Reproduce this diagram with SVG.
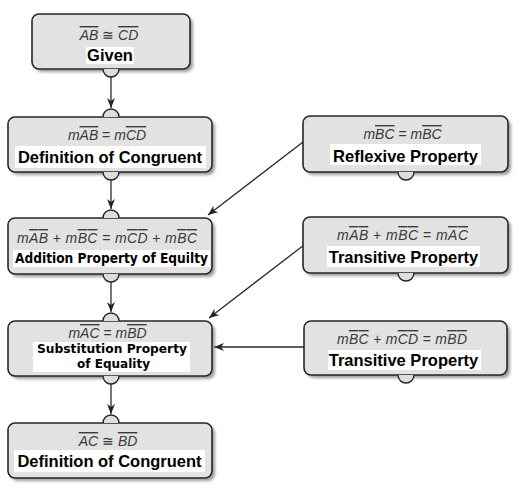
<svg xmlns="http://www.w3.org/2000/svg" width="521" height="495" viewBox="0 0 521 495">
<defs>
<filter id="sh" x="-10%" y="-10%" width="130%" height="140%"><feGaussianBlur stdDeviation="1.4"/></filter>
<marker id="ah" markerUnits="userSpaceOnUse" markerWidth="10" markerHeight="8" refX="10" refY="4" orient="auto">
<path d="M0,0 L10,4 L0,8 L3,4 z" fill="#222"/>
</marker>
<style>
.shadow{fill:#7a7a7a;opacity:.75;filter:url(#sh)}
.box{fill:#e2e2e2;stroke:#262626;stroke-width:1.6}
.tab{fill:#dedede;stroke:#262626;stroke-width:1.4}
.hl{fill:#ffffff}
.f{font-family:"Liberation Sans",Arial,sans-serif;font-style:italic;font-size:14px;fill:#3a3a3a;text-anchor:middle}
.o{text-decoration:overline}
.op{font-style:normal}
.l{font-family:"Liberation Sans",Arial,sans-serif;font-weight:bold;font-size:16.5px;fill:#000;text-anchor:middle}
.v{font-family:"DejaVu Sans Condensed","DejaVu Sans",sans-serif;font-stretch:condensed;font-weight:bold;font-size:13.5px;fill:#000;text-anchor:middle}
.s{font-size:12.5px}
.c{fill:none;stroke:#2a2a2a;stroke-width:1.3;marker-end:url(#ah)}
</style>
</defs>
<rect width="521" height="495" fill="#ffffff"/>

<g id="connectors">
<line class="c" x1="111" y1="77" x2="111" y2="108"/>
<line class="c" x1="111" y1="180" x2="111" y2="209"/>
<line class="c" x1="111" y1="282" x2="111" y2="312"/>
<line class="c" x1="111" y1="384" x2="111" y2="414"/>
<line class="c" x1="303" y1="142" x2="208" y2="215"/>
<line class="c" x1="304" y1="245" x2="209" y2="318"/>
<line class="c" x1="304" y1="347" x2="214" y2="347"/>
</g>

<g id="n-given">
<rect class="shadow" x="35" y="17" width="158" height="55" rx="7"/>
<rect class="box" x="32" y="14" width="158" height="55" rx="7"/>
<path class="tab" d="M103,69 A8,8 0 0 0 119,69"/>
<text class="f" x="109" y="40"><tspan class="o">AB</tspan><tspan class="op"> ≅ </tspan><tspan class="o">CD</tspan></text>
<rect class="hl" x="86" y="47" width="48" height="17"/>
<text class="l" x="110" y="61">Given</text>
</g>

<g id="n-defcong1">
<rect class="shadow" x="11" y="120" width="204" height="55" rx="7"/>
<rect class="box" x="8" y="117" width="204" height="55" rx="7"/>
<path class="tab" d="M103,117 A8,8 0 0 1 119,117"/>
<path class="tab" d="M103,172 A8,8 0 0 0 119,172"/>
<text class="f" x="107" y="140">m<tspan class="o">AB</tspan><tspan class="op"> = </tspan>m<tspan class="o">CD</tspan></text>
<rect class="hl" x="15" y="146" width="191" height="22"/>
<text class="l" x="110" y="163">Definition of Congruent</text>
</g>

<g id="n-reflexive">
<rect class="shadow" x="306" y="119" width="205" height="56" rx="7"/>
<rect class="box" x="303" y="116" width="205" height="56" rx="7"/>
<path class="tab" d="M398,172 A8,8 0 0 0 414,172"/>
<text class="f" x="402.5" y="139">m<tspan class="o">BC</tspan><tspan class="op"> = </tspan>m<tspan class="o">BC</tspan></text>
<rect class="hl" x="330" y="144" width="151" height="21"/>
<text class="l" x="405.5" y="162">Reflexive Property</text>
</g>

<g id="n-addition">
<rect class="shadow" x="11" y="221" width="204" height="56" rx="7"/>
<rect class="box" x="8" y="218" width="204" height="56" rx="7"/>
<path class="tab" d="M103,218 A8,8 0 0 1 119,218"/>
<path class="tab" d="M103,274 A8,8 0 0 0 119,274"/>
<text class="f" x="107" y="243" textLength="180" lengthAdjust="spacing">m<tspan class="o">AB</tspan><tspan class="op"> + </tspan>m<tspan class="o">BC</tspan><tspan class="op"> = </tspan>m<tspan class="o">CD</tspan><tspan class="op"> + </tspan>m<tspan class="o">BC</tspan></text>
<rect class="hl" x="13" y="250" width="197" height="17"/>
<text class="v" x="111.5" y="263" textLength="193" lengthAdjust="spacingAndGlyphs">Addition Property of Equilty</text>
</g>

<g id="n-transitive1">
<rect class="shadow" x="306" y="220" width="205" height="56" rx="7"/>
<rect class="box" x="303" y="217" width="205" height="56" rx="7"/>
<path class="tab" d="M398,273 A8,8 0 0 0 414,273"/>
<text class="f" x="402.5" y="240" textLength="131" lengthAdjust="spacing">m<tspan class="o">AB</tspan><tspan class="op"> + </tspan>m<tspan class="o">BC</tspan><tspan class="op"> = </tspan>m<tspan class="o">AC</tspan></text>
<rect class="hl" x="327" y="246" width="153" height="21"/>
<text class="l" x="403.5" y="263">Transitive Property</text>
</g>

<g id="n-substitution">
<rect class="shadow" x="11" y="324" width="204" height="55" rx="7"/>
<rect class="box" x="8" y="321" width="204" height="55" rx="7"/>
<path class="tab" d="M103,321 A8,8 0 0 1 119,321"/>
<path class="tab" d="M103,376 A8,8 0 0 0 119,376"/>
<text class="f" x="107.5" y="338">m<tspan class="o">AC</tspan><tspan class="op"> = </tspan>m<tspan class="o">BD</tspan></text>
<rect class="hl" x="33" y="342" width="157" height="30"/>
<text class="v s" x="112" y="353" textLength="150" lengthAdjust="spacingAndGlyphs">Substitution Property</text>
<text class="v s" x="113.5" y="368" textLength="73" lengthAdjust="spacingAndGlyphs">of Equality</text>
</g>

<g id="n-transitive2">
<rect class="shadow" x="307" y="324" width="203" height="54" rx="7"/>
<rect class="box" x="304" y="321" width="203" height="54" rx="7"/>
<path class="tab" d="M398,375 A8,8 0 0 0 414,375"/>
<text class="f" x="402" y="344" textLength="130" lengthAdjust="spacing">m<tspan class="o">BC</tspan><tspan class="op"> + </tspan>m<tspan class="o">CD</tspan><tspan class="op"> = </tspan>m<tspan class="o">BD</tspan></text>
<rect class="hl" x="328" y="350" width="153" height="20"/>
<text class="l" x="403.5" y="366">Transitive Property</text>
</g>

<g id="n-defcong2">
<rect class="shadow" x="11" y="426" width="204" height="55" rx="7"/>
<rect class="box" x="8" y="423" width="204" height="55" rx="7"/>
<path class="tab" d="M103,423 A8,8 0 0 1 119,423"/>
<text class="f" x="108" y="446"><tspan class="o">AC</tspan><tspan class="op"> ≅ </tspan><tspan class="o">BD</tspan></text>
<rect class="hl" x="14" y="450" width="191" height="22"/>
<text class="l" x="109.5" y="467">Definition of Congruent</text>
</g>
</svg>
